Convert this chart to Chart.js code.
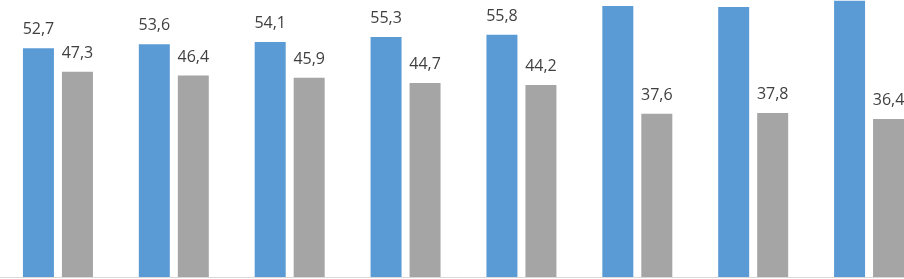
<!DOCTYPE html>
<html>
<head>
<meta charset="utf-8">
<script src="https://cdn.jsdelivr.net/npm/chart.js@4/dist/chart.umd.min.js"></script>
<style>
    html, body { margin: 0; padding: 0; background: #fff; overflow: hidden; }
    #wrap { width: 927px; height: 279px; position: relative; }
</style>
</head>
<body>
<div id="wrap"><canvas id="ShareChart"></canvas></div>
<script>
// values (the two series add up to 100 in every group)
var categories = ['1', '2', '3', '4', '5', '6', '7', '8'];
var blueValues = [52.7, 53.6, 54.1, 55.3, 55.8, 62.4, 62.2, 63.6];
var grayValues = [47.3, 46.4, 45.9, 44.7, 44.2, 37.6, 37.8, 36.4];

// draws the value above each bar, with a decimal comma
var valueLabels = {
    id: 'valueLabels',
    afterDatasetsDraw: function (chart) {
        var ctx = chart.ctx;
        ctx.save();
        ctx.font = '16px "Open Sans", sans-serif';
        ctx.fillStyle = '#404040';
        ctx.textAlign = 'center';
        ctx.textBaseline = 'alphabetic';
        chart.data.datasets.forEach(function (ds, i) {
            chart.getDatasetMeta(i).data.forEach(function (bar, j) {
                ctx.fillText(ds.data[j].toFixed(1).replace('.', ','), bar.x, bar.y - 14);
            });
        });
        ctx.restore();
    }
};

// light baseline under the bars
var baseLine = {
    id: 'baseLine',
    beforeDatasetsDraw: function (chart) {
        var ctx = chart.ctx, a = chart.chartArea;
        ctx.save();
        ctx.strokeStyle = '#d9d9d9';
        ctx.lineWidth = 1;
        ctx.beginPath();
        ctx.moveTo(0, a.bottom + 0.5);
        ctx.lineTo(chart.width, a.bottom + 0.5);
        ctx.stroke();
        ctx.restore();
    }
};

document.addEventListener("DOMContentLoaded", function () {
    var ctx = document.getElementById('ShareChart').getContext('2d');
    new Chart(ctx, {
        type: 'bar',
        data: {
            labels: categories,
            datasets: [
                { label: 'A', data: blueValues, backgroundColor: '#5b9bd5' },
                { label: 'B', data: grayValues, backgroundColor: '#a5a5a5' }
            ]
        },
        options: {
            responsive: true,
            maintainAspectRatio: false,
            animation: false,
            layout: { padding: { left: 0, right: 0, top: 0, bottom: 2 } },
            plugins: {
                legend: { display: false },
                tooltip: { enabled: false }
            },
            datasets: {
                bar: { categoryPercentage: 0.673, barPercentage: 0.795 }
            },
            scales: {
                x: { display: false },
                y: { display: false, min: 0, max: 63.8 }
            }
        },
        plugins: [baseLine, valueLabels]
    });
});
</script>
</body>
</html>
